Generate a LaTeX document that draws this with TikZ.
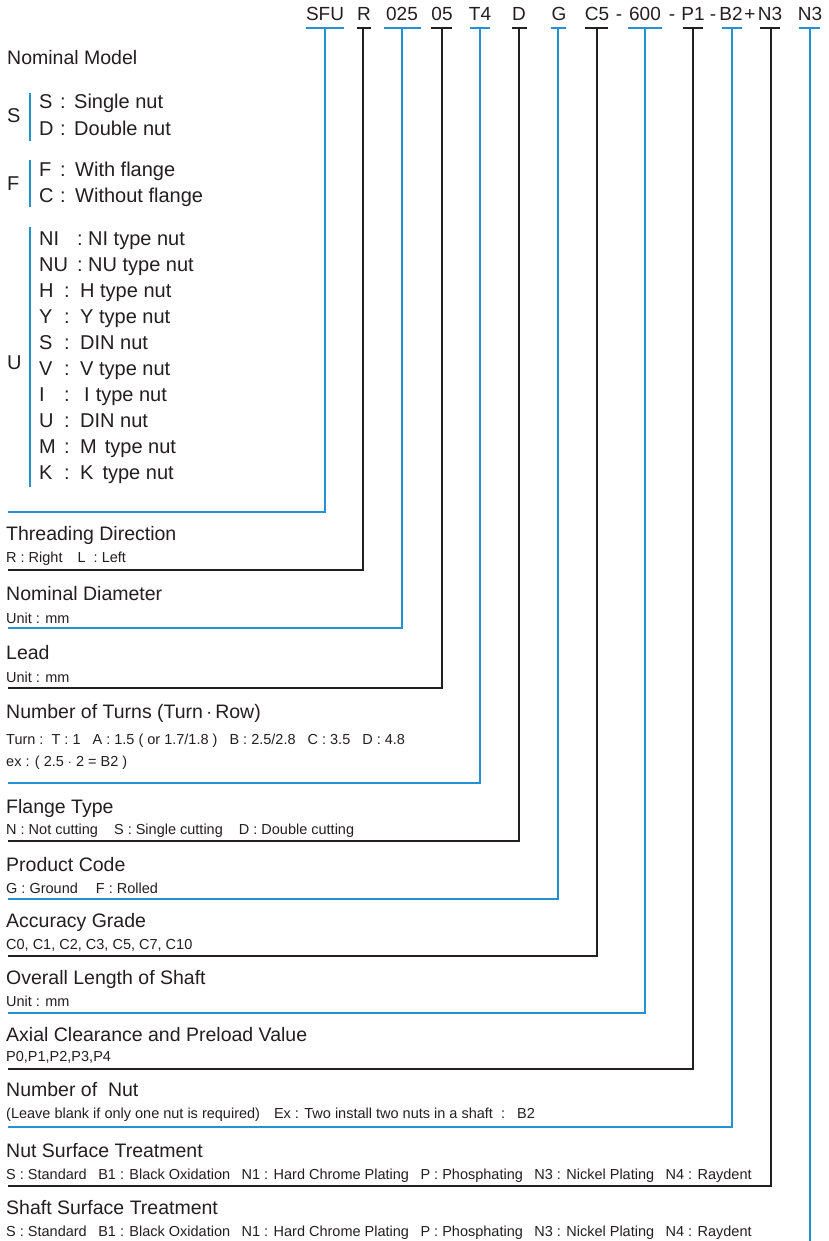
\documentclass[tikz,border=0pt]{standalone}
\usepackage{fontspec}
\setmainfont{Liberation Sans}
\definecolor{lblue}{RGB}{38,145,210}
\definecolor{ink}{RGB}{35,31,32}
\newcommand\gp[1][11pt]{\hspace{#1}}
\tikzset{
 bl/.style={draw=lblue, line width=2.2pt, line join=miter},
 bk/.style={draw=ink, line width=2.2pt, line join=miter},
 big/.style={inner sep=0pt, anchor=base west, text=ink, font=\fontsize{19.5}{22}\selectfont},
 opt/.style={inner sep=0pt, anchor=base west, text=ink, font=\fontsize{20}{22}\selectfont},
 col/.style={inner sep=0pt, anchor=base, text=ink, font=\fontsize{20}{22}\selectfont},
 small/.style={inner sep=0pt, anchor=base west, text=ink, font=\fontsize{14.5}{16}\selectfont},
 hdr/.style={inner sep=0pt, anchor=base, text=ink, font=\fontsize{19}{22}\selectfont},
}
\begin{document}
\begin{tikzpicture}[x=1pt,y=-1pt]
\useasboundingbox[fill=white] (0,0) rectangle (828,1241);

% ---------- header ----------
\node[hdr] (hSFU) at (325,21) {SFU};
\node[hdr] (hR)   at (364,21) {R};
\node[hdr] (h025) at (402,21) {025};
\node[hdr] (h05)  at (442,21) {05};
\node[hdr] (hT4)  at (480,21) {T4};
\node[hdr] (hD)   at (519,21) {D};
\node[hdr] (hG)   at (559,21) {G};
\node[hdr] (hC5)  at (597,21) {C5};
\node[hdr] (hda)  at (619,21) {-};
\node[hdr] (h600) at (645,21) {600};
\node[hdr] (hdb)  at (672,21) {-};
\node[hdr] (hP1)  at (693,21) {P1};
\node[hdr] (hdc)  at (713,21) {-};
\node[hdr] (hB2)  at (731,21) {B2};
\node[hdr] (hpl)  at (750,21) {+};
\node[hdr] (hN3)  at (770,21) {N3};
\node[hdr] (hN3b) at (810,21) {N3};

% end points of the leader lines
\coordinate (eSFU) at (8,512);
\coordinate (eR)   at (8,570);
\coordinate (e025) at (8,628);
\coordinate (e05)  at (8,688);
\coordinate (eT4)  at (8,783);
\coordinate (eD)   at (8,841);
\coordinate (eG)   at (8,899);
\coordinate (eC5)  at (8,956);
\coordinate (e600) at (8,1013);
\coordinate (eP1)  at (8,1069);
\coordinate (eB2)  at (8,1127);
\coordinate (eN3)  at (8,1186);
\coordinate (eN3b) at (810,1241);

% T bars and leaders
\draw[bl] (306,28) -- (344,28); \draw[bl] (325,28) |- (eSFU);
\draw[bk] (357,28) -- (371,28); \draw[bk] (363,28) |- (eR);
\draw[bl] (384,28) -- (421,28); \draw[bl] (402,28) |- (e025);
\draw[bk] (431,28) -- (452,28); \draw[bk] (442,28) |- (e05);
\draw[bl] (470,28) -- (490,28); \draw[bl] (480,28) |- (eT4);
\draw[bk] (512,28) -- (527,28); \draw[bk] (519,28) |- (eD);
\draw[bl] (551,28) -- (566,28); \draw[bl] (558,28) |- (eG);
\draw[bk] (585,28) -- (608,28); \draw[bk] (597,28) |- (eC5);
\draw[bl] (628,28) -- (662,28); \draw[bl] (645,28) |- (e600);
\draw[bk] (683,28) -- (703,28); \draw[bk] (693,28) |- (eP1);
\draw[bl] (722,28) -- (742,28); \draw[bl] (732,28) |- (eB2);
\draw[bk] (760,28) -- (780,28); \draw[bk] (771,28) |- (eN3);
\draw[bl] (799,28) -- (820,28); \draw[bl] (810,28) -- (eN3b);

% ---------- nominal model block ----------
\node[big] (nm) at (7,65) {Nominal Model};

\node[opt] (kS) at (7,123) {S};
\draw[bl] (30,93) -- (30,141);
\node[opt] at (39,109) {S}; \node[col] at (63,109) {:}; \node[opt] at (74,109) {Single nut};
\node[opt] at (39,136) {D}; \node[col] at (63,136) {:}; \node[opt] at (74,136) {Double nut};

\node[opt] (kF) at (7,191) {F};
\draw[bl] (30,160) -- (30,207);
\node[opt] at (39,177) {F}; \node[col] at (63,177) {:}; \node[opt] at (75,177) {With flange};
\node[opt] at (39,203) {C}; \node[col] at (63,203) {:}; \node[opt] at (75,203) {Without flange};

\node[opt] (kU) at (7,369) {U};
\draw[bl] (30,227) -- (30,487);
\foreach \k/\cx/\tx/\t [count=\i from 0] in {
  NI/80/88/NI type nut, NU/80/88/NU type nut, H/67/80/H type nut, Y/67/80/Y type nut,
  S/67/80/DIN nut, V/67/80/V type nut, I/67/84/{I\hspace{6pt}type nut}, U/67/80/DIN nut,
  M/67/80/{M\hspace{8pt}type nut}, K/67/80/{K\hspace{9pt}type nut}}{
  \pgfmathsetmacro\yy{246+25.9*\i}
  \node[opt] at (39,\yy) {\k};
  \node[col] at (\cx,\yy) {:};
  \node[opt] at (\tx,\yy) {\t};
}

% ---------- descriptions ----------
\node[big] (tR) at (6,540) {Threading Direction};
\node[small] at (6,562) {R : Right\hspace{15pt}L\ \ : Left};

\node[big] (t025) at (6,600) {Nominal Diameter};
\node[small] at (6,623) {Unit : mm};

\node[big] (t05) at (6,659) {Lead};
\node[small] at (6,682) {Unit : mm};

\node[big] (tT4) at (6,718) {Number of Turns (Turn\,$\cdot$\,Row)};
\node[small] at (6,744) {Turn :\ \ T : 1\gp[12pt]A : 1.5 ( or 1.7/1.8 )\gp[12pt]B : 2.5/2.8\gp[12pt]C : 3.5\gp[12pt]D : 4.8};
\node[small] at (6,766) {ex : ( 2.5 $\cdot$ 2 = B2 )};

\node[big] (tD) at (6,813) {Flange Type};
\node[small] at (6,834) {N : Not cutting\gp[16pt]S : Single cutting\gp[16pt]D : Double cutting};

\node[big] (tG) at (6,871) {Product Code};
\node[small] at (6,893) {G : Ground\gp[18pt]F : Rolled};

\node[big] (tC5) at (6,927) {Accuracy Grade};
\node[small] at (6,949) {C0, C1, C2, C3, C5, C7, C10};

\node[big] (t600) at (6,984) {Overall Length of Shaft};
\node[small] at (6,1006) {Unit : mm};

\node[big] (tP1) at (6,1041) {Axial Clearance and Preload Value};
\node[small] at (6,1061) {P0,P1,P2,P3,P4};

\node[big] (tB2) at (6,1096) {Number of\ \ Nut};
\node[small] at (6,1118) {(Leave blank if only one nut is required)\gp[14pt]Ex : Two install two nuts in a shaft\ \ :\ \ \ B2};

\node[big] (tN3) at (6,1157) {Nut Surface Treatment};
\node[small] at (6,1179) {S : Standard\gp[11.5pt]B1 : Black Oxidation\gp[11.5pt]N1 : Hard Chrome Plating\gp[11.5pt]P : Phosphating\gp[11.5pt]N3 : Nickel Plating\gp[11.5pt]N4 : Raydent};

\node[big] (tN3b) at (6,1214) {Shaft Surface Treatment};
\node[small] at (6,1236) {S : Standard\gp[11.5pt]B1 : Black Oxidation\gp[11.5pt]N1 : Hard Chrome Plating\gp[11.5pt]P : Phosphating\gp[11.5pt]N3 : Nickel Plating\gp[11.5pt]N4 : Raydent};
\end{tikzpicture}
\end{document}
